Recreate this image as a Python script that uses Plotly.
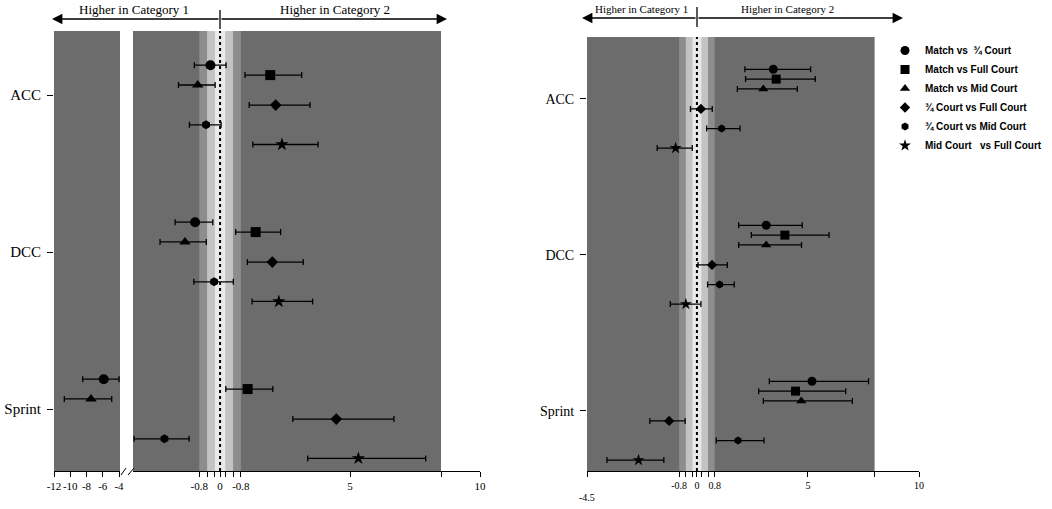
import plotly.graph_objects as go

W, H = 1052, 509

categories = ["ACC", "DCC", "Sprint"]
series_names = ["Match vs\u00a0\u00a0\u00be Court", "Match vs Full Court", "Match vs Mid Court",
                "\u00be Court vs Full Court", "\u00be Court vs Mid Court",
                "Mid Court\u00a0\u00a0\u00a0vs Full Court"]
symbols = ["circle", "square", "triangle-up", "diamond", "hexagon", "star"]

# Left chart: effect size and CI per series, order ACC, DCC, Sprint
left_mean = [[-0.37, -0.96, -5.88], [1.93, 1.37, 1.06], [-0.86, -1.35, -7.45],
             [2.14, 2.01, 4.47], [-0.54, -0.23, -2.14], [2.38, 2.26, 5.32]]
left_lo = [[-0.99, -1.73, -8.47], [0.96, 0.60, 0.22], [-1.60, -2.31, -10.73],
           [1.12, 1.05, 2.80], [-1.18, -1.01, -3.31], [1.26, 1.23, 3.37]]
left_hi = [[0.23, -0.28, -4.00], [3.14, 2.33, 2.03], [-0.19, -0.53, -4.90],
           [3.46, 3.20, 6.69], [0.04, 0.51, -1.19], [3.77, 3.56, 7.91]]

# Right chart
right_mean = [[3.44, 3.12, 5.18], [3.57, 3.96, 4.44], [2.99, 3.12, 4.70],
              [0.18, 0.68, -1.25], [1.11, 1.02, 1.85], [-0.96, -0.50, -2.63]]
right_lo = [[2.16, 1.88, 3.26], [2.19, 2.45, 2.78], [1.82, 1.88, 2.99],
            [-0.29, 0.05, -2.12], [0.44, 0.48, 0.87], [-1.79, -1.20, -4.05]]
right_hi = [[5.12, 4.74, 7.73], [5.33, 5.95, 6.70], [4.52, 4.71, 7.00],
            [0.69, 1.37, -0.53], [1.94, 1.68, 3.02], [-0.21, 0.18, -1.49]]

# Tick values / labels
left_a_ticks = [-12, -10, -8, -6, -4]
left_a_labels = ["-12", "-10", "-8", "-6", "-4"]
left_b_ticks = [-0.8, -0.5, -0.2, 0, 0.2, 0.5, 0.8, 5, 8.5, 10]
left_b_labels = ["-0.8", "", "", "0", "", "", "-0.8", "5", "", "10"]
right_ticks = [-4.95, -0.8, -0.5, -0.2, 0, 0.2, 0.5, 0.8, 5, 8, 10]
right_labels = ["", "-0.8", "", "", "0", "", "", "0.8", "5", "", "10"]
bands = [(-0.8, 0.8), (-0.5, 0.5), (-0.2, 0.2)]

# layout constants
ROW_OFF = [0.19, 0.127, 0.064, -0.064, -0.19, -0.315]
SIZES_L = [10, 10, 10, 9, 9, 10]
SIZES_R = [9, 9, 9, 8, 8, 9]
BREAK = -3.35
BAND_COLORS = ["#8d8d8d", "#c3c3c3", "#e9e9e9"]
PANEL = "#6c6c6c"
SERIF = "Liberation Serif"

cat_y = [len(categories) - k for k in range(len(categories))]

fig = go.Figure()

for i, name in enumerate(series_names):
    for axis in ("x", "x2"):
        idx = [k for k in range(3) if (left_mean[i][k] < BREAK) == (axis == "x")]
        if not idx:
            continue
        m = [left_mean[i][k] for k in idx]
        fig.add_trace(go.Scatter(
            x=m, y=[cat_y[k] + ROW_OFF[i] for k in idx], xaxis=axis, yaxis="y",
            mode="markers", name=name, showlegend=False,
            marker=dict(symbol=symbols[i], size=SIZES_L[i], color="black", line=dict(width=0)),
            error_x=dict(type="data", symmetric=False,
                         array=[left_hi[i][k] - left_mean[i][k] for k in idx],
                         arrayminus=[left_mean[i][k] - left_lo[i][k] for k in idx],
                         color="black", thickness=1.3, width=3)))

for i, name in enumerate(series_names):
    fig.add_trace(go.Scatter(
        x=right_mean[i], y=[cat_y[k] + ROW_OFF[i] for k in range(3)], xaxis="x3", yaxis="y3",
        mode="markers", name=name, showlegend=True,
        marker=dict(symbol=symbols[i], size=SIZES_R[i], color="black", line=dict(width=0)),
        error_x=dict(type="data", symmetric=False,
                     array=[right_hi[i][k] - right_mean[i][k] for k in range(3)],
                     arrayminus=[right_mean[i][k] - right_lo[i][k] for k in range(3)],
                     color="black", thickness=1.3, width=3)))

shapes = []
def rect(xref, x0, x1, color):
    yref = "y3 domain" if xref == "x3" else "y domain"
    shapes.append(dict(type="rect", xref=xref, yref=yref, x0=x0, x1=x1, y0=0, y1=1,
                       fillcolor=color, line=dict(width=0), layer="below"))

rect("x", -12, -3.88, PANEL)
rect("x2", BREAK, 8.5, PANEL)
rect("x3", -4.95, 8, PANEL)
for xr in ("x2", "x3"):
    for (a, b), c in zip(bands, BAND_COLORS):
        rect(xr, a, b, c)
    yref = "y3 domain" if xr == "x3" else "y domain"
    shapes.append(dict(type="line", xref=xr, yref=yref, x0=0, x1=0, y0=0, y1=1,
                       line=dict(color="black", width=2, dash="dot"), layer="below"))

def px(x):
    return x / W
def py(y):
    return (H - y) / H

# header vertical ticks
shapes.append(dict(type="line", xref="paper", yref="paper", x0=px(220), x1=px(220), y0=py(10), y1=py(29),
                   line=dict(color="black", width=1.3)))
shapes.append(dict(type="line", xref="paper", yref="paper", x0=px(697), x1=px(697), y0=py(7), y1=py(27),
                   line=dict(color="black", width=1.3)))
# axis break marks
shapes.append(dict(type="line", xref="paper", yref="paper", x0=px(121), x1=px(126), y0=py(475), y1=py(468),
                   line=dict(color="black", width=1)))
shapes.append(dict(type="line", xref="paper", yref="paper", x0=px(128), x1=px(134), y0=py(475), y1=py(468),
                   line=dict(color="black", width=1)))

annotations = []
def arrow(tip, tail, y):
    annotations.append(dict(x=px(tip), y=py(y), xref="paper", yref="paper", text="",
                            showarrow=True, axref="pixel", ayref="pixel", ax=tail - tip, ay=0,
                            arrowhead=2, arrowsize=1.6, arrowwidth=1.3, arrowcolor="black", standoff=0))

arrow(52, 220, 19)
arrow(447, 220, 19)
arrow(582, 697, 18)
arrow(903, 697, 18)

def label(text, x, y, size):
    annotations.append(dict(x=px(x), y=py(y), xref="paper", yref="paper", text=text, showarrow=False,
                            font=dict(family=SERIF, size=size, color="black"),
                            xanchor="center", yanchor="middle"))

label("Higher in Category 1", 134, 9, 13)
label("Higher in Category 2", 335, 9, 13)
label("Higher in Category 1", 641, 9, 11)
label("Higher in Category 2", 787, 9, 11)
annotations.append(dict(x=-4.95, y=py(497), xref="x3", yref="paper", text="-4.5", showarrow=False,
                        font=dict(family=SERIF, size=10, color="black"), xanchor="center", yanchor="middle"))

common_x = dict(showline=True, linecolor="black", linewidth=1, ticks="outside", ticklen=5,
                tickcolor="black", showgrid=False, zeroline=False, tickangle=0, tickmode="array",
                automargin=False)
common_y = dict(showline=False, ticks="outside", ticklen=6, tickcolor="black", showgrid=False,
                zeroline=False, tickmode="array", tickvals=cat_y, ticktext=categories,
                ticklabelstandoff=3, automargin=False)

fig.update_layout(
    width=W, height=H, margin=dict(l=0, r=0, t=0, b=0, pad=0, autoexpand=False),
    paper_bgcolor="white", plot_bgcolor="white",
    xaxis=dict(domain=[px(54), px(120)], range=[-12, -3.88], anchor="y",
               tickvals=left_a_ticks, ticktext=left_a_labels,
               tickfont=dict(family=SERIF, size=11, color="black"), **common_x),
    xaxis2=dict(domain=[px(133), px(480)], range=[BREAK, 10], anchor="y",
                tickvals=left_b_ticks, ticktext=left_b_labels,
                tickfont=dict(family=SERIF, size=11, color="black"), **common_x),
    yaxis=dict(domain=[38 / H, 478 / H], range=[0.605, 3.408], anchor="x",
               tickfont=dict(family=SERIF, size=15, color="black"), **common_y),
    xaxis3=dict(domain=[px(587), px(919)], range=[-4.95, 10], anchor="y3",
                tickvals=right_ticks, ticktext=right_labels,
                tickfont=dict(family=SERIF, size=10, color="black"), **common_x),
    yaxis3=dict(domain=[38 / H, 472 / H], range=[0.615, 3.397], anchor="x3",
                tickfont=dict(family=SERIF, size=14, color="black"), **common_y),
    legend=dict(x=px(885), y=py(36), xanchor="left", yanchor="top", bgcolor="rgba(0,0,0,0)",
                font=dict(family="Liberation Sans", size=10, color="black", weight="bold")),
    shapes=shapes, annotations=annotations,
)

fig.write_html("out.html", config={"displayModeBar": False},
               post_script="document.body.style.margin='0';")
